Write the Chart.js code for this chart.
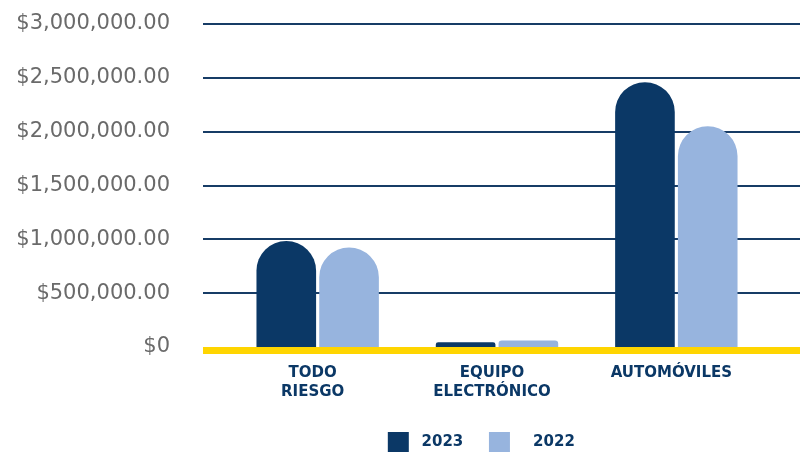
<!DOCTYPE html>
<html>
<head>
<meta charset="utf-8">
<script src="https://cdn.jsdelivr.net/npm/chart.js@4/dist/chart.umd.min.js"></script>
<style>
  html, body { margin: 0; padding: 0; background: #fff; }
  #wrap { width: 800px; height: 452px; }
</style>
</head>
<body>
<div id="wrap"><canvas id="grafica"></canvas></div>
<script>
"use strict"

const categorias = [["TODO", "RIESGO"], ["EQUIPO", "ELECTRÓNICO"], "AUTOMÓVILES"];
const valores2023 = [985000, 45000, 2460000];
const valores2022 = [925000, 60000, 2050000];
const series = ["2023", "2022"];
const ticksY = [0, 500000, 1000000, 1500000, 2000000, 2500000, 3000000];

const azulOscuro = "#0b3866";
const azulClaro = "#97b4de";
const amarillo = "#ffd500";

// lineas de la cuadricula y linea amarilla de base, a todo lo ancho
const lineasFondo = {
    id: "lineasFondo",
    beforeDatasetsDraw(chart) {
        const ctx = chart.ctx;
        const y = chart.scales.y;
        ctx.save();
        ctx.strokeStyle = "#173c66";
        ctx.lineWidth = 2;
        ticksY.forEach(t => {
            if (t === 0) return;
            const py = Math.round(y.getPixelForValue(t));
            ctx.beginPath();
            ctx.moveTo(203, py);
            ctx.lineTo(800, py);
            ctx.stroke();
        });
        ctx.restore();
    },
    afterDatasetsDraw(chart) {
        const ctx = chart.ctx;
        const y0 = chart.scales.y.getPixelForValue(0);
        ctx.save();
        ctx.fillStyle = amarillo;
        ctx.fillRect(203, y0, 597, 7);
        ctx.restore();
    }
};

let ctx = document.getElementById("grafica").getContext("2d");

new Chart(ctx, {
    type: "bar",
    data: {
        labels: categorias,
        datasets: [{
            label: series[0],
            data: valores2023,
            backgroundColor: azulOscuro,
            borderRadius: { topLeft: 30, topRight: 30 },
            borderSkipped: "bottom",
            categoryPercentage: 0.70,
            barPercentage: 0.95
        }, {
            label: series[1],
            data: valores2022,
            backgroundColor: azulClaro,
            borderRadius: { topLeft: 30, topRight: 30 },
            borderSkipped: "bottom",
            categoryPercentage: 0.70,
            barPercentage: 0.95
        }]
    },
    options: {
        responsive: true,
        maintainAspectRatio: false,
        animation: false,
        layout: { padding: { top: 24, right: 34, left: 0, bottom: -11 } },
        plugins: {
            tooltip: { enabled: false },
            legend: {
                position: "bottom",
                fullSize: false,
                labels: {
                    boxWidth: 21,
                    boxHeight: 21,
                    padding: 10,
                    font: { family: "DejaVu Sans", size: 15, weight: "bold" },
                    generateLabels: function (chart) {
                        const total = chart.data.datasets.length;
                        return chart.data.datasets.map((d, i) => ({
                            text: i === total - 1 ? "   " + d.label + "      " : " " + d.label + "   ",
                            fillStyle: d.backgroundColor,
                            strokeStyle: d.backgroundColor,
                            fontColor: azulOscuro,
                            lineWidth: 0,
                            datasetIndex: i
                        }));
                    }
                }
            }
        },
        scales: {
            x: {
                grid: { display: false, drawTicks: false },
                border: { display: false },
                ticks: {
                    color: azulOscuro,
                    padding: 16,
                    labelOffset: -5,
                    maxRotation: 0,
                    autoSkip: false,
                    font: { family: "DejaVu Sans", size: 15, weight: "bold", lineHeight: 1.3 }
                },
                afterFit: function (scale) { scale.height = 75; }
            },
            y: {
                min: 0,
                max: 3000000,
                grid: { display: false, drawTicks: false },
                border: { display: false },
                ticks: {
                    stepSize: 500000,
                    padding: 58,
                    color: "#6a6a6a",
                    font: { family: "DejaVu Sans", size: 21 },
                    callback: function (valor) {
                        if (valor === 0) return "$0";
                        return "$" + valor.toLocaleString("en-US", { minimumFractionDigits: 2 });
                    }
                },
                afterFit: function (scale) {
                    scale.width = 228;
                    scale.paddingTop = 0;
                    scale.paddingBottom = 0;
                }
            }
        }
    },
    plugins: [lineasFondo]
});
</script>
</body>
</html>
